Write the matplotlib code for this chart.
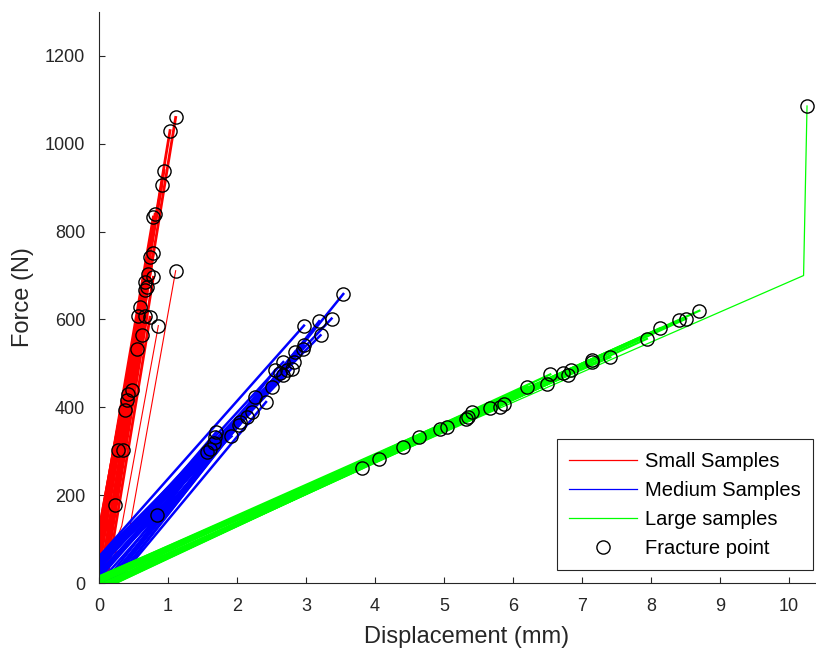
import numpy as np
import matplotlib
matplotlib.use("Agg")
import matplotlib.pyplot as plt

plt.rcParams['font.family'] = ['Liberation Sans', 'DejaVu Sans']

# fracture points (displacement mm, force N) and force at zero displacement
small_x = [1.111, 1.029, 0.942, 0.908, 0.812, 0.787, 0.787, 0.739, 0.715, 0.787,
           0.667, 0.691, 0.667, 1.111, 0.594, 0.570, 0.667, 0.739, 0.860, 0.618,
           0.546, 0.473, 0.425, 0.401, 0.377, 0.280, 0.353, 0.232]
small_f = [1060, 1030, 939, 905, 840, 833, 752, 742, 704, 696,
           685, 673, 666, 711, 628, 609, 609, 605, 586, 564,
           533, 439, 431, 416, 393, 302, 302, 177]
small_f0 = [-10, 50, 30, 90, 70, 110, -30, 40, 80, -70,
            100, -10, 50, 0, 120, 120, -40, -100, 0, -50,
            70, -10, 90, 110, 100, 120, -30, 80]
# two small samples with a long toe: they bend here
small_bend = {13: (0.45, 130), 18: (0.33, 130)}

medium_x = [3.54, 2.97, 3.19, 3.37, 3.21, 2.97, 2.95, 2.84, 2.82, 2.79,
            2.67, 2.55, 2.67, 2.72, 2.62, 2.50, 2.26, 2.42, 2.21, 2.14,
            2.04, 2.03, 1.92, 1.70, 1.68, 1.66, 1.61, 1.56, 0.84]
medium_f = [658, 586, 596, 602, 564, 541, 533, 526, 503, 488,
            503, 484, 473, 484, 477, 447, 424, 412, 389, 378,
            367, 359, 334, 344, 333, 318, 306, 298, 155]
medium_f0 = [-30, 60, -45, 40, 55, 10, 50, -20, 60, 25,
             45, -35, 55, 15, -40, 35, 20, -45, 50, 0,
             -25, 40, 55, 30, 50, -30, 35, -15, 20]

large_x = [3.81, 4.06, 4.40, 4.64, 4.94, 5.05, 5.32, 5.35, 5.40, 5.66,
           5.81, 5.87, 6.20, 6.49, 6.54, 6.72, 6.80, 6.84, 7.14, 7.14,
           7.41, 7.94, 8.13, 8.41, 8.51, 8.70]
large_f = [261, 283, 310, 332, 350, 355, 374, 378, 389, 398,
           401, 408, 447, 452, 475, 477, 473, 484, 507, 504,
           514, 556, 580, 598, 602, 620]
large_f0 = [-15, 12, -6, 15, -18, 6, -10, 12, 0, -16,
            8, -8, 14, -12, 3, -18, 10, -5, 6, -14,
            14, -10, 2, 12, -6, 4]

# the one large sample with a sudden jump at the end
jump_x = [0, 10.21, 10.26]
jump_f = [0, 700, 1086]

fig = plt.figure(figsize=(8.16, 6.55), dpi=100)
ax = fig.add_axes([99/816, 72/655, 717/816, 571/655])

for i in range(len(small_x)):
    if i in small_bend:
        xs = [0, small_bend[i][0], small_x[i]]
        fs = [0, small_bend[i][1], small_f[i]]
        w = 0.8
    else:
        xs = [0, small_x[i]]
        fs = [small_f0[i], small_f[i]]
        w = 2.0
    ax.plot(xs, fs, color=(1, 0, 0), lw=w,
            label='Small Samples' if i == 0 else None)
for i in range(len(medium_x)):
    ax.plot([0, medium_x[i]], [medium_f0[i], medium_f[i]], color=(0, 0, 1), lw=1.8,
            label='Medium Samples' if i == 0 else None)
for i in range(len(large_x)):
    ax.plot([0, large_x[i]], [large_f0[i], large_f[i]], color=(0, 1, 0), lw=1.6,
            label='Large samples' if i == 0 else None)
ax.plot(jump_x, jump_f, color=(0, 1, 0), lw=0.9)

px = small_x + medium_x + large_x + [jump_x[-1]]
pf = small_f + medium_f + large_f + [jump_f[-1]]
ax.plot(px, pf, 'o', ms=9.5, mfc='none', mec='k', mew=1.0, label='Fracture point')

ax.set_xlim(0, 10.39)
ax.set_ylim(0, 1300)
ax.set_xticks(np.arange(0, 11, 1))
ax.set_yticks(np.arange(0, 1201, 200))

dark = '#262626'
for s in ['top', 'right']:
    ax.spines[s].set_visible(False)
for s in ['left', 'bottom']:
    ax.spines[s].set_color(dark)
    ax.spines[s].set_linewidth(0.8)
ax.tick_params(direction='in', length=4, width=0.8, colors=dark, labelsize=13)
ax.tick_params(axis='x', pad=11)
ax.tick_params(axis='y', pad=10)

ax.set_xlabel('Displacement (mm)', fontsize=17, color=dark)
ax.xaxis.set_label_coords(0.512, -0.075)
ax.set_ylabel('Force (N)', fontsize=17, color=dark, labelpad=8)

leg = ax.legend(loc='lower right', bbox_to_anchor=(0.996, 0.023), borderaxespad=0,
                fontsize=14.5, fancybox=False, framealpha=1, edgecolor=dark,
                handlelength=3.4, handletextpad=0.4, labelspacing=0.5,
                borderpad=0.6)
leg.get_frame().set_linewidth(0.8)
for h in leg.get_lines()[:3]:
    h.set_linewidth(0.9)

fig.savefig('out.png', dpi=100)
